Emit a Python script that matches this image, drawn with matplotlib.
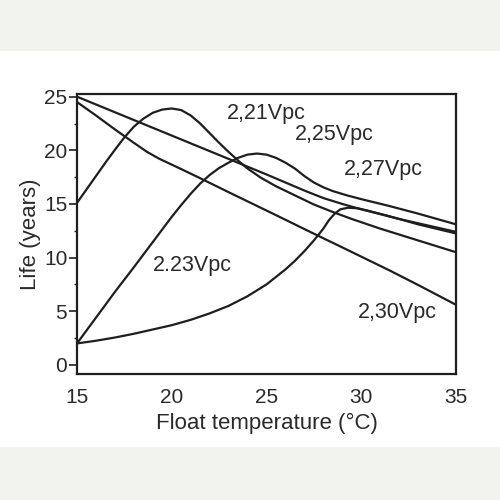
import matplotlib
matplotlib.use("Agg")
import matplotlib.pyplot as plt
from matplotlib.patches import Rectangle

plt.rcParams['font.family'] = ['Liberation Sans', 'DejaVu Sans']

# float temperature (degC) and life (years)
t_221 = [15, 15.5, 16, 16.5, 17, 17.5, 18, 18.5, 19, 19.5, 20, 20.5, 21, 21.5, 22, 22.5,
         23, 23.5, 24, 24.7, 25.5, 26.5, 27.5, 28.5, 29.5, 31, 33, 35]
life_221 = [15.1, 16.35, 17.6, 18.85, 20.05, 21.2, 22.2, 22.95, 23.5, 23.8, 23.9, 23.75,
            23.25, 22.5, 21.6, 20.7, 19.85, 19.05, 18.3, 17.45, 16.65, 15.8, 14.95, 14.25,
            13.6, 12.7, 11.6, 10.5]

t_223 = [15, 16, 17, 18, 19, 20, 20.5, 21, 21.5, 22, 22.5, 23, 23.5, 24, 24.5, 25, 25.5,
         26, 26.5, 27, 27.5, 28, 28.5, 29.25, 30, 31.5, 33, 34, 35]
life_223 = [2.0, 4.4, 6.8, 9.1, 11.45, 13.8, 14.9, 15.95, 16.9, 17.7, 18.35, 18.85, 19.3,
            19.6, 19.7, 19.6, 19.3, 18.85, 18.3, 17.6, 17.0, 16.55, 16.2, 15.8, 15.45,
            14.8, 14.1, 13.6, 13.1]

t_225 = [15, 17, 19, 21, 23, 25, 26, 27, 28, 29, 30, 31, 32, 33, 34, 35]
life_225 = [25.0, 23.55, 22.1, 20.65, 19.2, 17.75, 17.0, 16.25, 15.55, 15.0, 14.5, 14.05,
            13.6, 13.2, 12.8, 12.4]

t_227 = [15, 16, 17, 18, 19, 20, 21, 22, 23, 24, 25, 26, 26.5, 27, 27.5, 28, 28.3, 28.6,
         28.9, 29.3, 29.8, 30.3, 31.5, 33, 35]
life_227 = [2.0, 2.25, 2.55, 2.9, 3.3, 3.7, 4.2, 4.8, 5.5, 6.4, 7.5, 8.9, 9.7, 10.6, 11.6,
            12.7, 13.5, 14.1, 14.5, 14.65, 14.6, 14.4, 13.85, 13.1, 12.25]

t_230 = [15, 16, 17, 18, 18.7, 19.3, 19.9, 20.5, 21.5, 23, 25.45, 27.3, 29, 31.5, 33, 35]
life_230 = [24.5, 23.25, 21.95, 20.7, 19.85, 19.25, 18.75, 18.25, 17.4, 16.1, 14.0, 12.4,
            10.95, 8.8, 7.45, 5.6]

series = [(t_221, life_221), (t_223, life_223), (t_225, life_225),
          (t_227, life_227), (t_230, life_230)]

labels = ['2,21Vpc', '2.23Vpc', '2,25Vpc', '2,27Vpc', '2,30Vpc']
label_pos = [(24.97, 23.45), (21.07, 9.3), (28.6, 21.5), (31.15, 18.25), (31.9, 4.9)]

x_ticks = [15, 20, 25, 30, 35]
y_ticks = [0, 5, 10, 15, 20, 25]
y_minor = [2.5, 7.5, 12.5, 17.5, 22.5]

ink = '#1e1e1e'
txt = '#2a2a2a'

fig = plt.figure(figsize=(5, 5), dpi=100)
fig.patch.set_facecolor('white')
# grey bands top and bottom
fig.patches.append(Rectangle((0, 0.898), 1, 0.102, transform=fig.transFigure,
                             facecolor='#f2f2ef', edgecolor='none', zorder=0))
fig.patches.append(Rectangle((0, 0), 1, 0.106, transform=fig.transFigure,
                             facecolor='#f2f2ef', edgecolor='none', zorder=0))

ax = fig.add_axes([0.154, 0.252, 0.758, 0.560])

for t, life in series:
    ax.plot(t, life, color=ink, lw=1.6, solid_capstyle='round', solid_joinstyle='round')

for s, (x, y) in zip(labels, label_pos):
    ax.text(x, y, s, ha='center', va='center', fontsize=15.5, color=txt)

ax.set_xlim(15, 35)
ax.set_ylim(-0.85, 25.25)
ax.set_xticks(x_ticks)
ax.set_yticks(y_ticks)
ax.set_yticks(y_minor, minor=True)

for sp in ax.spines.values():
    sp.set_linewidth(1.6)
    sp.set_color(ink)

ax.tick_params(axis='x', length=0, pad=10, labelsize=15, labelcolor=txt)
ax.tick_params(axis='y', which='major', direction='out', length=6, width=1.2,
               pad=1, labelsize=15, labelcolor=txt, color=ink)
ax.tick_params(axis='y', which='minor', direction='out', length=2.5, width=1.0, color=ink)

ax.set_xlabel('Float temperature (°C)', fontsize=16, color=txt, labelpad=4)
ax.set_ylabel('Life (years)', fontsize=16, color=txt, labelpad=2)

plt.savefig('out.png', dpi=100)
